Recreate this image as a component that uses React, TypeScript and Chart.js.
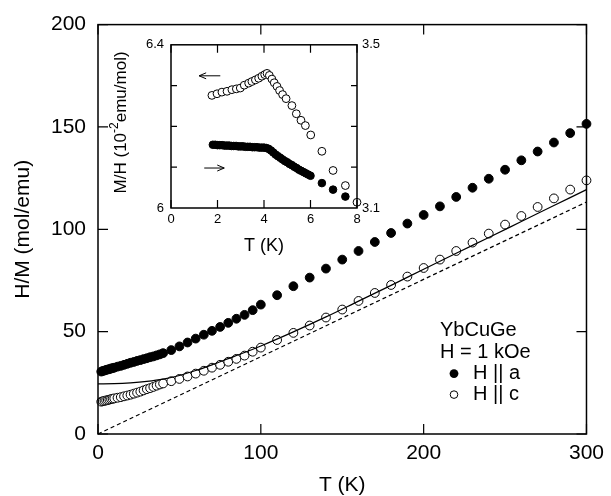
import React, { useEffect, useRef } from "react";
import { Chart, registerables } from "chart.js";

Chart.register(...registerables);

const FONT = '"Liberation Sans", Arial, Helvetica, sans-serif';

// ---- Main panel data: H/M (mol/emu) vs T (K) ----
const tempA = [2, 3, 4, 5, 6, 7, 8, 9, 10, 12, 14, 16, 18, 20, 22, 24, 26, 28, 30, 32, 34, 36, 38, 40,
  45, 50, 55, 60, 65, 70, 75, 80, 85, 90, 95, 100,
  110, 120, 130, 140, 150, 160, 170, 180, 190, 200, 210, 220, 230, 240, 250, 260, 270, 280, 290, 300];
const hmA = [30.5, 30.8, 31.0, 31.3, 31.5, 31.7, 32.0, 32.2, 32.4, 32.9, 33.3, 33.8, 34.3, 34.8, 35.2, 35.7, 36.1, 36.6, 37.0, 37.5, 37.9, 38.4, 38.9, 39.5,
  41.0, 42.8, 44.7, 46.6, 48.5, 50.4, 52.3, 54.3, 56.3, 58.2, 60.5, 63.2,
  67.8, 72.2, 76.4, 80.8, 85.2, 89.4, 93.8, 98.2, 102.8, 107.0, 111.2, 115.8, 120.3, 124.7, 129.1, 133.7, 138.0, 142.4, 147.0, 151.5];

const tempC = [2, 3, 4, 5, 6, 7, 8, 9, 10, 12, 14, 16, 18, 20, 22, 24, 26, 28, 30, 32, 34, 36, 38, 40,
  45, 50, 55, 60, 65, 70, 75, 80, 85, 90, 95, 100,
  110, 120, 130, 140, 150, 160, 170, 180, 190, 200, 210, 220, 230, 240, 250, 260, 270, 280, 290, 300];
const hmC = [15.8, 16.0, 16.2, 16.4, 16.6, 16.8, 17.0, 17.2, 17.4, 17.7, 18.0, 18.4, 18.8, 19.2, 19.7, 20.2, 20.7, 21.3, 21.9, 22.4, 23.0, 23.6, 24.2, 24.7,
  25.8, 26.9, 28.1, 29.5, 30.9, 32.4, 33.8, 35.3, 36.7, 38.3, 40.2, 42.2,
  45.9, 49.4, 53.0, 56.9, 60.8, 65.0, 68.9, 72.8, 76.9, 81.1, 85.2, 89.4, 93.5, 97.9, 102.3, 106.5, 110.9, 115.1, 119.4, 123.9];

const fitT = [0, 10, 20, 30, 40, 50, 60, 70, 80, 90, 100, 120, 140, 160, 180, 200, 220, 240, 260, 280, 300];
const fitSolid = [24.5, 24.6, 25.0, 25.7, 26.8, 28.6, 31.0, 33.8, 36.8, 39.8, 43.0, 49.9, 57.2, 64.9, 72.6, 80.5, 88.3, 96.0, 103.8, 111.6, 119.4];

const cwT = [0, 300];
const cwDashed = [0, 113.3];

const mainXTicks = [0, 100, 200, 300];
const mainYTicks = [0, 50, 100, 150, 200];

// ---- Inset data: M/H vs T ----
const insetTOpen = [1.76, 1.98, 2.19, 2.41, 2.62, 2.81, 2.98, 3.15, 3.34, 3.48,
  3.63, 3.77, 3.91, 4.03, 4.13, 4.23, 4.34, 4.44, 4.56, 4.67,
  4.80, 4.95, 5.20, 5.39, 5.59, 5.78, 6.01, 6.49, 6.97, 7.50, 8.0];
const insetOpen = [6.276, 6.280, 6.284, 6.286, 6.290, 6.292, 6.294, 6.301, 6.306, 6.310,
  6.314, 6.318, 6.323, 6.327, 6.330, 6.325, 6.316, 6.307, 6.298, 6.288,
  6.278, 6.268, 6.251, 6.231, 6.215, 6.202, 6.179, 6.139, 6.092, 6.055, 6.014];

const insetTFilled = [1.8, 1.9, 2.0, 2.1, 2.2, 2.3, 2.4, 2.5, 2.6, 2.7, 2.8, 2.9, 3.0, 3.1, 3.2, 3.3, 3.4, 3.5, 3.6, 3.7,
  3.8, 3.9, 4.0, 4.1, 4.2, 4.3, 4.4, 4.5, 4.6, 4.7, 4.8, 4.9, 5.0, 5.1, 5.2, 5.3, 5.4, 5.5, 5.6, 5.7,
  5.8, 5.9, 6.0, 6.49, 6.97, 7.50];
const insetFilled = [3.255, 3.255, 3.254, 3.254, 3.254, 3.253, 3.253, 3.253, 3.252, 3.252, 3.252, 3.251, 3.251, 3.251, 3.250, 3.250, 3.250, 3.249, 3.249, 3.249,
  3.248, 3.248, 3.248, 3.247, 3.245, 3.241, 3.236, 3.231, 3.227, 3.223, 3.219, 3.215, 3.212, 3.208, 3.205, 3.201, 3.198, 3.194, 3.191, 3.188,
  3.185, 3.182, 3.179, 3.161, 3.145, 3.128];

const insetXTicks = [0, 2, 4, 6, 8];
const insetYLabels = [6, 6.4];
const insetYLabelText = ["6", "6.4"];
const insetY2Labels = [3.1, 3.5];
const insetY2LabelText = ["3.1", "3.5"];
const insetYMinor = [6.1, 6.2, 6.3];
const insetY2Minor = [3.2, 3.3, 3.4];

// arrows [tFrom, tTo, value on left axis]
const arrowOpen = [2.12, 1.21, 6.324];
const arrowFilled = [1.43, 2.29, 6.098];

const toPts = (xs: number[], ys: number[]) => xs.map((x, i) => ({ x, y: ys[i] }));

const mainFrame = {
  id: "mainFrame",
  afterDraw(chart: any) {
    const { ctx, chartArea: a, scales } = chart;
    const xs = scales.x;
    const ys = scales.y;
    ctx.save();
    ctx.strokeStyle = "#000";
    ctx.lineWidth = 1.5;
    ctx.strokeRect(a.left, a.top, a.right - a.left, a.bottom - a.top);
    ctx.lineWidth = 1.2;
    ctx.beginPath();
    for (const v of mainXTicks) {
      const p = xs.getPixelForValue(v);
      ctx.moveTo(p, a.bottom); ctx.lineTo(p, a.bottom - 10);
      ctx.moveTo(p, a.top); ctx.lineTo(p, a.top + 10);
    }
    for (const v of mainYTicks) {
      const p = ys.getPixelForValue(v);
      ctx.moveTo(a.left, p); ctx.lineTo(a.left + 10, p);
      ctx.moveTo(a.right, p); ctx.lineTo(a.right - 10, p);
    }
    ctx.stroke();

    // legend block
    ctx.fillStyle = "#000";
    ctx.font = `20px ${FONT}`;
    ctx.textBaseline = "middle";
    ctx.textAlign = "left";
    const lx = a.left + 342;
    ctx.fillText("YbCuGe", lx, a.top + 306);
    ctx.fillText("H = 1 kOe", lx, a.top + 328);
    ctx.fillText("H || a", lx + 33, a.top + 349);
    ctx.fillText("H || c", lx + 33, a.top + 370);
    ctx.beginPath();
    ctx.arc(lx + 14, a.top + 349, 4.4, 0, Math.PI * 2);
    ctx.fill();
    ctx.beginPath();
    ctx.arc(lx + 14, a.top + 370, 3.8, 0, Math.PI * 2);
    ctx.lineWidth = 1;
    ctx.stroke();
    ctx.restore();
  },
};

const drawArrow = (ctx: any, x1: number, x2: number, y: number) => {
  const dir = Math.sign(x2 - x1);
  ctx.beginPath();
  ctx.moveTo(x1, y); ctx.lineTo(x2, y);
  ctx.moveTo(x2 - dir * 7, y - 3); ctx.lineTo(x2, y); ctx.lineTo(x2 - dir * 7, y + 3);
  ctx.stroke();
};

const insetFrame = {
  id: "insetFrame",
  afterDraw(chart: any) {
    const { ctx, chartArea: a, scales } = chart;
    const xs = scales.x;
    const ys = scales.y;
    const y2 = scales.y2;
    ctx.save();
    ctx.strokeStyle = "#000";
    ctx.lineWidth = 1.5;
    ctx.strokeRect(a.left, a.top, a.right - a.left, a.bottom - a.top);
    ctx.lineWidth = 1.2;
    ctx.beginPath();
    for (const v of insetXTicks) {
      const p = xs.getPixelForValue(v);
      ctx.moveTo(p, a.bottom); ctx.lineTo(p, a.bottom - 8);
      ctx.moveTo(p, a.top); ctx.lineTo(p, a.top + 8);
    }
    for (const v of insetYMinor) {
      const p = ys.getPixelForValue(v);
      ctx.moveTo(a.left, p); ctx.lineTo(a.left + 6, p);
    }
    for (const v of insetY2Minor) {
      const p = y2.getPixelForValue(v);
      ctx.moveTo(a.right, p); ctx.lineTo(a.right - 6, p);
    }
    ctx.stroke();

    ctx.lineWidth = 1;
    drawArrow(ctx, xs.getPixelForValue(arrowOpen[0]), xs.getPixelForValue(arrowOpen[1]), ys.getPixelForValue(arrowOpen[2]));
    drawArrow(ctx, xs.getPixelForValue(arrowFilled[0]), xs.getPixelForValue(arrowFilled[1]), ys.getPixelForValue(arrowFilled[2]));

    // rotated y title with superscript
    const cx = a.left - 50;
    const cy = (a.top + a.bottom) / 2 - 4;
    ctx.translate(cx, cy);
    ctx.rotate(-Math.PI / 2);
    ctx.fillStyle = "#000";
    ctx.textBaseline = "middle";
    ctx.textAlign = "left";
    const big = `17px ${FONT}`;
    const small = `12px ${FONT}`;
    const parts: [string, string, number][] = [["M/H (10", big, 0], ["-2", small, -6], ["emu/mol)", big, 0]];
    let total = 0;
    for (const [t, f] of parts) { ctx.font = f; total += ctx.measureText(t).width; }
    let x = -total / 2;
    for (const [t, f, dy] of parts) {
      ctx.font = f;
      ctx.fillText(t, x, dy);
      x += ctx.measureText(t).width;
    }
    ctx.restore();
  },
};

export default function App() {
  const mainRef = useRef<HTMLCanvasElement>(null);
  const insetRef = useRef<HTMLCanvasElement>(null);

  useEffect(() => {
    const tickFont = { family: FONT, size: 21 };
    const main = new Chart(mainRef.current as HTMLCanvasElement, {
      type: "scatter",
      data: {
        datasets: [
          {
            type: "line", label: "fit", data: toPts(fitT, fitSolid), borderColor: "#000", borderWidth: 1.2,
            pointRadius: 0, fill: false, cubicInterpolationMode: "monotone", order: 0, clip: false,
          } as any,
          {
            type: "line", label: "Curie", data: toPts(cwT, cwDashed), borderColor: "#000", borderWidth: 1.2,
            borderDash: [4, 3], pointRadius: 0, fill: false, order: 0, clip: false,
          } as any,
          {
            label: "H || c", data: toPts(tempC, hmC), pointRadius: 4.4, pointBackgroundColor: "#fff",
            pointBorderColor: "#000", pointBorderWidth: 1, order: 1, clip: false,
          } as any,
          {
            label: "H || a", data: toPts(tempA, hmA), pointRadius: 4.4, pointBackgroundColor: "#000",
            pointBorderColor: "#000", pointBorderWidth: 1, order: 1, clip: false,
          } as any,
        ],
      },
      options: {
        responsive: false,
        animation: false,
        events: [],
        layout: { padding: { top: 24, right: 19, left: 0, bottom: 0 } },
        plugins: { legend: { display: false }, tooltip: { enabled: false } },
        scales: {
          x: {
            type: "linear", min: 0, max: 300,
            afterBuildTicks: (s: any) => { s.ticks = mainXTicks.map((v) => ({ value: v })); },
            afterFit: (s: any) => { s.height = 62; },
            grid: { display: false, drawTicks: false },
            border: { display: false },
            ticks: { font: tickFont, color: "#000", padding: 7, maxRotation: 0, autoSkip: false },
            title: { display: true, text: "T (K)", color: "#000", font: { family: FONT, size: 21, lineHeight: 1 }, padding: { top: 0, bottom: 0.5 } },
          },
          y: {
            type: "linear", min: 0, max: 200,
            afterBuildTicks: (s: any) => { s.ticks = mainYTicks.map((v) => ({ value: v })); },
            afterFit: (s: any) => { s.width = 98; },
            grid: { display: false, drawTicks: false },
            border: { display: false },
            ticks: { font: tickFont, color: "#000", padding: 12, autoSkip: false },
            title: { display: true, text: "H/M (mol/emu)", color: "#000", font: { family: FONT, size: 21, lineHeight: 1 }, padding: { top: 13, bottom: 0 } },
          },
        },
      } as any,
      plugins: [mainFrame],
    });

    const inset = new Chart(insetRef.current as HTMLCanvasElement, {
      type: "scatter",
      data: {
        datasets: [
          {
            label: "open", data: toPts(insetTOpen, insetOpen), yAxisID: "y", pointRadius: 3.9,
            pointBackgroundColor: "#fff", pointBorderColor: "#000", pointBorderWidth: 1, clip: false,
          } as any,
          {
            label: "filled", data: toPts(insetTFilled, insetFilled), yAxisID: "y2", pointRadius: 3.8,
            pointBackgroundColor: "#000", pointBorderColor: "#000", pointBorderWidth: 1, clip: false,
          } as any,
        ],
      },
      options: {
        responsive: false,
        animation: false,
        events: [],
        layout: { padding: { top: 14, right: 0, left: 0, bottom: 0 } },
        plugins: { legend: { display: false }, tooltip: { enabled: false } },
        scales: {
          x: {
            type: "linear", min: 0, max: 8,
            afterBuildTicks: (s: any) => { s.ticks = insetXTicks.map((v) => ({ value: v })); },
            afterFit: (s: any) => { s.height = 52; },
            grid: { display: false, drawTicks: false },
            border: { display: false },
            ticks: { font: { family: FONT, size: 13 }, color: "#000", padding: 4, maxRotation: 0, autoSkip: false },
            title: { display: true, text: "T (K)", color: "#000", font: { family: FONT, size: 18, lineHeight: 1 }, padding: { top: 0, bottom: 5 } },
          },
          y: {
            type: "linear", position: "left", min: 6, max: 6.4,
            afterBuildTicks: (s: any) => { s.ticks = insetYLabels.map((v) => ({ value: v })); },
            afterFit: (s: any) => { s.width = 71; },
            grid: { display: false, drawTicks: false },
            border: { display: false },
            ticks: {
              font: { family: FONT, size: 13 }, color: "#000", padding: 7, autoSkip: false,
              callback: (_v: any, i: number) => insetYLabelText[i],
            },
          },
          y2: {
            type: "linear", position: "right", min: 3.1, max: 3.5,
            afterBuildTicks: (s: any) => { s.ticks = insetY2Labels.map((v) => ({ value: v })); },
            afterFit: (s: any) => { s.width = 33; },
            grid: { display: false, drawTicks: false },
            border: { display: false },
            ticks: {
              font: { family: FONT, size: 13 }, color: "#000", padding: 5, autoSkip: false,
              callback: (_v: any, i: number) => insetY2LabelText[i],
            },
          },
        },
      } as any,
      plugins: [insetFrame],
    });

    return () => {
      main.destroy();
      inset.destroy();
    };
  }, []);

  return (
    <div style={{ position: "absolute", left: 0, top: 0, width: 611, height: 496, background: "#fff" }}>
      <canvas ref={mainRef} width={611} height={496} style={{ position: "absolute", left: 0, top: 0, width: 611, height: 496 }} />
      <canvas ref={insetRef} width={290} height={230} style={{ position: "absolute", left: 100, top: 30, width: 290, height: 230 }} />
    </div>
  );
}
